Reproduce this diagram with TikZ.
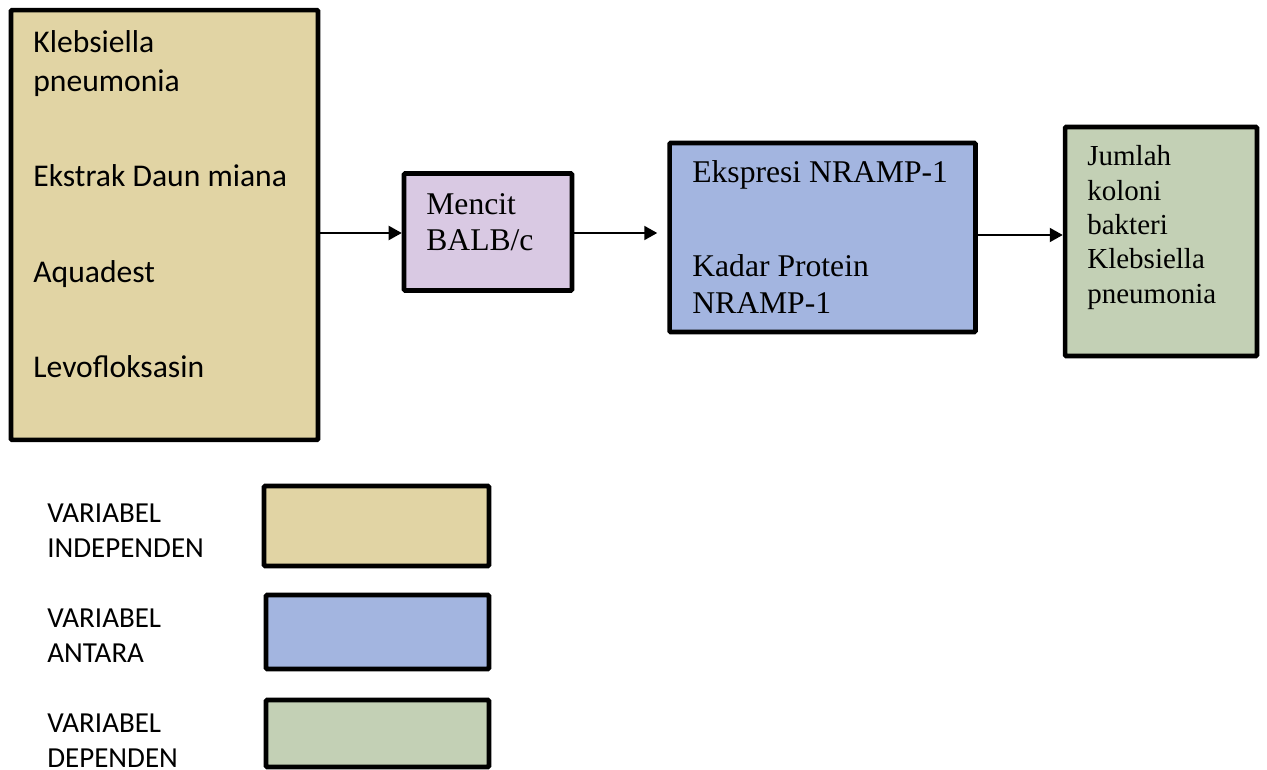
\documentclass[tikz,border=0pt]{standalone}
\usepackage{fontspec}
\setmainfont{Liberation Serif}
\newfontfamily\calibri{Carlito}
\usetikzlibrary{arrows.meta,positioning,calc}
\definecolor{indepfill}{HTML}{E1D4A4}
\definecolor{mencitfill}{HTML}{D9C9E3}
\definecolor{antarafill}{HTML}{A3B5E0}
\definecolor{depfill}{HTML}{C3D0B5}

\begin{document}
\begin{tikzpicture}[x=0.02cm,y=-0.02cm,
  box/.style={draw=black,line width=2.6pt,rounded corners=0.6pt,inner sep=0pt},
  flow/.style={-{Triangle[length=0.26cm,width=0.28cm]},line width=1.1pt},
  sanstxt/.style={font=\calibri\fontsize{18}{22.2}\selectfont,anchor=base west,inner sep=0pt,align=left},
  legtxt/.style={font=\calibri\fontsize{16.5}{19.9}\selectfont,anchor=base west,inner sep=0pt,align=left},
  sertxt/.style={font=\fontsize{18}{20.5}\selectfont,anchor=base west,inner sep=0pt,align=left}]
  \useasboundingbox (0,0) rectangle (1267,770);
  % main boxes
  \node[box,fill=indepfill,minimum width=6.14cm,minimum height=8.6cm] (indep) at (164.5,225) {};
  \node[box,fill=mencitfill,minimum width=3.36cm,minimum height=2.34cm] (mencit) at (488,232) {};
  \node[box,fill=antarafill,minimum width=6.12cm,minimum height=3.78cm] (antara) at (822.5,237.5) {};
  \node[box,fill=depfill,minimum width=3.84cm,minimum height=4.58cm] (dep) at (1161,241.5) {};
  % texts in boxes (base = last line)
  \node[sanstxt] (klebs) at (33,92) {Klebsiella\\pneumonia};
  \node[sanstxt] (ekstrak) at (33,187) {Ekstrak Daun miana};
  \node[sanstxt] (aquadest) at (33,282) {Aquadest};
  \node[sanstxt] (levo) at (33,377) {Levofloksasin};
  \node[sertxt] (mencittxt) at (426,251) {Mencit\\BALB/c};
  \node[sertxt] (ekspresi) at (692,183) {Ekspresi NRAMP-1};
  \node[sertxt] (kadar) at (692,313) {Kadar Protein\\NRAMP-1};
  \node[sertxt,font=\fontsize{16.5}{19.5}\selectfont] (jumlah) at (1087,303) {Jumlah\\koloni\\bakteri\\Klebsiella\\pneumonia};
  % arrows
  \draw[flow] (indep.east |- mencit.west) ++(0,1) coordinate (a1) -- (a1 -| mencit.west);
  \draw[flow,shorten >=0.2cm] (mencit.east) ++(0,1) coordinate (a2) -- (a2 -| antara.west);
  \draw[flow] (antara.east) ++(0,-2.5) coordinate (a3) -- (a3 -| dep.west);
  % legend
  \node[legtxt] (legindep) at (47,557) {VARIABEL\\INDEPENDEN};
  \node[box,fill=indepfill,minimum width=4.5cm,minimum height=1.6cm] (boxindep) at (376.5,526) {};
  \node[legtxt] (legantara) at (47,662) {VARIABEL\\ANTARA};
  \node[box,fill=antarafill,minimum width=4.46cm,minimum height=1.48cm] (boxantara) at (377.5,632) {};
  \node[legtxt] (legdep) at (47,767) {VARIABEL\\DEPENDEN};
  \node[box,fill=depfill,minimum width=4.46cm,minimum height=1.34cm] (boxdep) at (377.5,733.5) {};
\end{tikzpicture}
\end{document}
